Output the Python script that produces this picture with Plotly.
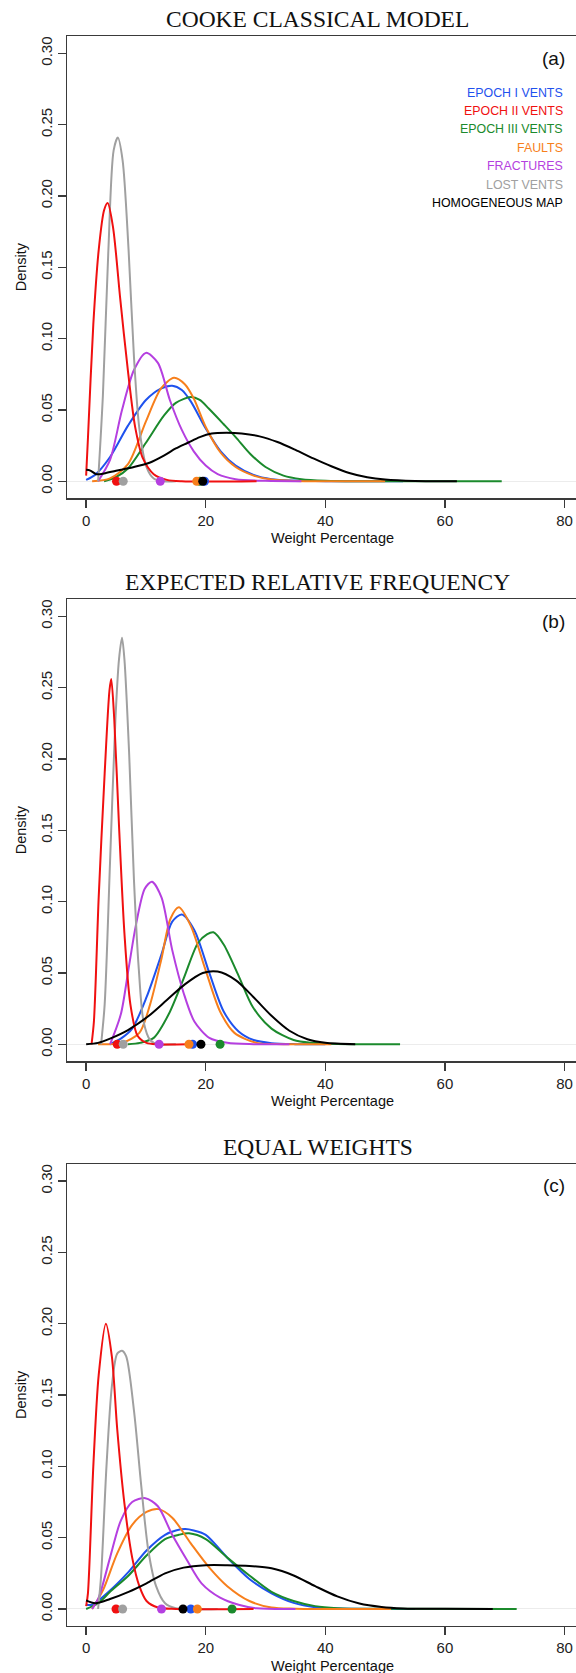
import plotly.graph_objects as go

# ---------------- data ----------------
series_names = ["EPOCH I VENTS", "EPOCH II VENTS", "EPOCH III VENTS", "FAULTS",
                "FRACTURES", "LOST VENTS", "HOMOGENEOUS MAP"]
series_keys = ["blue", "red", "green", "orange", "purple", "gray", "black"]
panel_titles = ["COOKE CLASSICAL MODEL", "EXPECTED RELATIVE FREQUENCY", "EQUAL WEIGHTS"]
panel_tags = ["(a)", "(b)", "(c)"]
x_ticks = [0, 20, 40, 60, 80]
y_ticks = [0.0, 0.05, 0.10, 0.15, 0.20, 0.25, 0.30]
y_tick_text = ["0.00", "0.05", "0.10", "0.15", "0.20", "0.25", "0.30"]

# Panel (a) COOKE CLASSICAL MODEL
a_blue_x = [0, 1.5, 4, 7, 10, 12.5, 14.4, 16, 17.5, 20, 22.5, 25, 28, 31, 35, 40, 45, 53]
a_blue_y = [.001, .0045, .017, .039, .057, .065, .067, .064, .056, .037, .021, .011, .0045, .0015, .0005, .0001, 0, 0]
a_red_x = [0, 0.3, 1.2, 2.1, 3.0, 3.6, 4.5, 5.7, 7.0, 8.2, 9.5, 11.3, 13.5, 16, 28.5]
a_red_y = [.004, .03, .11, .162, .19, .195, .178, .128, .077, .038, .016, .005, .001, 0, 0]
a_green_x = [3, 5, 7, 10, 13, 15, 17.5, 19, 20.5, 23, 25, 27.5, 30, 33, 36, 40, 45, 69.5]
a_green_y = [0, .003, .009, .027, .046, .055, .059, .057, .051, .04, .031, .019, .01, .004, .0015, .0004, 0, 0]
a_orange_x = [1, 4, 7, 10, 12.5, 14.7, 16.5, 18, 20, 22.5, 25, 28, 31, 35, 40, 50]
a_orange_y = [0, .002, .012, .042, .065, .0725, .068, .058, .038, .02, .01, .004, .0012, .0002, 0, 0]
a_purple_x = [2, 4, 6, 8, 10, 12, 14, 16, 18, 20, 22, 25, 30, 36]
a_purple_y = [0, .015, .05, .078, .09, .083, .057, .036, .021, .011, .005, .0015, .0003, 0]
a_gray_x = [2, 2.8, 3.7, 4.6, 5.3, 6.1, 7.1, 8.0, 8.9, 10.1, 11.3, 13, 15]
a_gray_y = [0, .06, .16, .232, .241, .225, .162, .087, .037, .01, .002, 0, 0]
a_black_x = [0, 0.7, 1.7, 3, 5, 8, 10.6, 13, 15, 17, 19, 21, 23.5, 26, 29, 32, 35, 38, 41, 44, 47, 50, 55, 62]
a_black_y = [.008, .0075, .005, .0055, .0074, .01, .013, .018, .023, .027, .031, .0335, .034, .0335, .0315, .0275,
             .022, .016, .0105, .0058, .0028, .0012, .0002, 0]
a_dots_x = [19.8, 5.08, 19.0, 18.5, 12.4, 6.2, 19.5]

# Panel (b) EXPECTED RELATIVE FREQUENCY
b_blue_x = [4, 5.8, 7.7, 10.1, 12.6, 14.4, 16, 18.1, 20.6, 23, 25.5, 28, 31, 35, 40]
b_blue_y = [0, .004, .011, .033, .063, .086, .091, .08, .05, .023, .009, .003, .0008, .0001, 0]
b_red_x = [0.9, 1.3, 2.1, 3.1, 3.9, 4.2, 4.7, 5.5, 6.4, 7.4, 8.6, 10.1, 12, 17]
b_red_y = [0, .016, .103, .19, .248, .256, .228, .153, .078, .028, .006, .001, 0, 0]
b_green_x = [7, 9, 11.3, 13.8, 16.3, 18.7, 20.2, 21.3, 23, 25.5, 27.9, 31, 34.7, 37.7, 42, 52.5]
b_green_y = [0, .001, .0045, .021, .046, .071, .077, .0785, .07, .048, .026, .011, .003, .001, .0002, 0]
b_orange_x = [2, 6, 8.9, 10.7, 12.6, 14.1, 15.5, 17.5, 19.9, 22.4, 24.8, 28.5, 33, 41]
b_orange_y = [0, .001, .008, .028, .06, .088, .096, .083, .053, .023, .008, .001, .0001, 0]
b_purple_x = [4, 5.8, 7.1, 8.3, 9.8, 11, 12.6, 14.4, 16.3, 18.1, 20.6, 23.6, 28, 34]
b_purple_y = [0, .021, .053, .083, .109, .114, .103, .066, .036, .016, .0045, .001, .0001, 0]
b_gray_x = [2.5, 3.1, 4, 4.9, 5.5, 6, 6.4, 7.2, 8, 8.8, 9.6, 10.7, 12, 15]
b_gray_y = [0, .028, .128, .228, .27, .285, .27, .203, .115, .053, .016, .003, 0, 0]
b_black_x = [0, 2, 4, 7, 10.5, 13.5, 16.5, 19.5, 22, 25, 28, 31, 34, 37, 40, 45]
b_black_y = [0, .001, .004, .01, .02, .031, .042, .05, .051, .045, .033, .02, .0095, .0035, .001, 0]
b_dots_x = [17.8, 5.2, 22.4, 17.2, 12.2, 6.2, 19.2]

# Panel (c) EQUAL WEIGHTS
c_blue_x = [0, 1, 4, 7.1, 10.1, 13.2, 15, 16.6, 18, 20, 23.6, 27.3, 31, 34.7, 38.3, 42, 55]
c_blue_y = [.003, .003, .013, .026, .041, .052, .055, .056, .055, .052, .036, .021, .011, .0043, .0012, .0003, 0]
c_red_x = [0, 0.3, 1.2, 2.1, 3.3, 4.3, 5.2, 6.4, 7.7, 8.9, 10.1, 12, 15, 28]
c_red_y = [.002, .011, .1, .164, .2, .177, .126, .074, .036, .016, .0056, .001, 0, 0]
c_green_x = [0, 2, 4, 7.1, 10.1, 13.2, 15.5, 17.2, 20, 23.6, 27.3, 31, 34.7, 38.3, 42, 50, 72]
c_green_y = [0, .004, .012, .0235, .0375, .049, .052, .053, .049, .036, .0235, .012, .0056, .002, .0006, .0001, 0]
c_orange_x = [1, 2.8, 5.2, 7.7, 10.1, 12.1, 14.4, 17.5, 20.6, 23.6, 27.3, 31, 35, 51]
c_orange_y = [0, .013, .039, .059, .068, .07, .064, .046, .029, .016, .0056, .001, .0002, 0]
c_purple_x = [1, 2.1, 4, 5.8, 7.7, 9.9, 12, 14.4, 16.9, 19.3, 22.4, 25.5, 28.5, 35]
c_purple_y = [0, .008, .036, .062, .075, .0777, .072, .052, .034, .018, .008, .003, .0005, 0]
c_gray_x = [2, 2.5, 3.4, 4.3, 5.2, 6, 6.7, 8, 9.2, 10.4, 11.7, 13.2, 15, 22]
c_gray_y = [0, .023, .1, .156, .179, .181, .177, .139, .087, .041, .016, .004, .0005, 0]
c_black_x = [0, 1.5, 4, 7.1, 10.1, 13.2, 16.3, 20, 23.6, 27.3, 31, 34.7, 38.3, 42, 45.7, 49.4, 53, 60, 68]
c_black_y = [.006, .004, .007, .012, .018, .025, .029, .0307, .0307, .0302, .0285, .0235, .016, .0088, .0038, .0014,
             .0004, .0001, 0]
c_dots_x = [17.5, 5.0, 24.4, 18.6, 12.6, 6.1, 16.2]

# ---------------- styling ----------------
colors = {"blue": "#1f52ee", "red": "#f01010", "green": "#1b8a2c", "orange": "#f77f1c",
          "purple": "#b53fe0", "gray": "#a0a0a0", "black": "#000000"}
draw_order = ["blue", "green", "orange", "purple", "gray", "red", "black"]

W, H = 576, 1673
SANS = "Liberation Sans, Arial, sans-serif"
SERIF = "Liberation Serif, Times New Roman, serif"
AXC = "#3a3a3a"

boxes = [(36.2, 498.4), (599.2, 1061.4), (1163.9, 1626.1)]
x_left_px = 67.0
x_range = [-3.2, 81.92]
y_range = [-0.012, 0.312]

panel_data = [
    {k: (globals()[f"a_{k}_x"], globals()[f"a_{k}_y"]) for k in series_keys},
    {k: (globals()[f"b_{k}_x"], globals()[f"b_{k}_y"]) for k in series_keys},
    {k: (globals()[f"c_{k}_x"], globals()[f"c_{k}_y"]) for k in series_keys},
]
panel_dots = [a_dots_x, b_dots_x, c_dots_x]

fig = go.Figure()
layout = dict(width=W, height=H, autosize=False, margin=dict(l=0, r=0, t=0, b=0),
              paper_bgcolor="white", plot_bgcolor="white", showlegend=False)
annotations = []

for p in range(3):
    sfx = "" if p == 0 else str(p + 1)
    xa, ya = "x" + sfx, "y" + sfx
    top, bot = boxes[p]
    dom_y = [1 - bot / H, 1 - top / H]
    layout["xaxis" + sfx] = dict(
        domain=[x_left_px / W, 1.0], range=x_range, anchor=ya,
        tickmode="array", tickvals=x_ticks, ticks="outside", ticklen=8, tickwidth=1.3,
        tickcolor=AXC, showline=True, linecolor=AXC, linewidth=1.3, mirror=True,
        showgrid=False, zeroline=False, tickfont=dict(family=SANS, size=15, color="#222"))
    layout["yaxis" + sfx] = dict(
        domain=dom_y, range=y_range, anchor=xa,
        tickmode="array", tickvals=y_ticks, ticktext=y_tick_text, tickangle=-90,
        ticks="outside", ticklen=8, tickwidth=1.3, tickcolor=AXC,
        showline=True, linecolor=AXC, linewidth=1.3, mirror=False,
        showgrid=False, zeroline=True, zerolinecolor="#ececec", zerolinewidth=1,
        tickfont=dict(family=SANS, size=15, color="#222"))

    for key in draw_order:
        xs, ys = panel_data[p][key]
        fig.add_trace(go.Scatter(x=xs, y=ys, mode="lines", xaxis=xa, yaxis=ya,
                                 line=dict(color=colors[key], width=2, shape="spline", smoothing=0.8),
                                 hoverinfo="skip"))
    for key, dx in zip(series_keys, panel_dots[p]):
        fig.add_trace(go.Scatter(x=[dx], y=[0], mode="markers", xaxis=xa, yaxis=ya,
                                 marker=dict(color=colors[key], size=9), hoverinfo="skip"))

    annotations.append(dict(text=panel_titles[p], xref="paper", yref="paper",
                            x=317.5 / W, y=1 - (top - 17.4) / H, xanchor="center", yanchor="middle",
                            showarrow=False, font=dict(family=SERIF, size=23.5, color="#111")))
    annotations.append(dict(text=panel_tags[p], xref="paper", yref="paper",
                            x=567 / W, y=1 - (top + 22) / H, xanchor="right", yanchor="middle",
                            showarrow=False, font=dict(family=SANS, size=19, color="#111")))
    annotations.append(dict(text="Weight Percentage", xref="paper", yref="paper",
                            x=332 / W, y=1 - (bot + 40) / H, xanchor="center", yanchor="middle",
                            showarrow=False, font=dict(family=SANS, size=14.5, color="#111")))
    annotations.append(dict(text="Density", xref="paper", yref="paper",
                            x=21 / W, y=1 - ((top + bot) / 2) / H, xanchor="center", yanchor="middle",
                            textangle=-90, showarrow=False, font=dict(family=SANS, size=14.5, color="#111")))

for i, (name, key) in enumerate(zip(series_names, series_keys)):
    annotations.append(dict(text=name, xref="paper", yref="paper",
                            x=564.5 / W, y=1 - (92.7 + i * 18.4) / H, xanchor="right", yanchor="middle",
                            showarrow=False, font=dict(family=SANS, size=12.4, color=colors[key])))

layout["annotations"] = annotations
fig.update_layout(**layout)
fig.write_html("out.html", config={"responsive": False, "displayModeBar": False, "staticPlot": True},
               post_script="document.body.style.margin='0';document.body.style.padding='0';"
                           "document.documentElement.style.overflow='hidden';")
